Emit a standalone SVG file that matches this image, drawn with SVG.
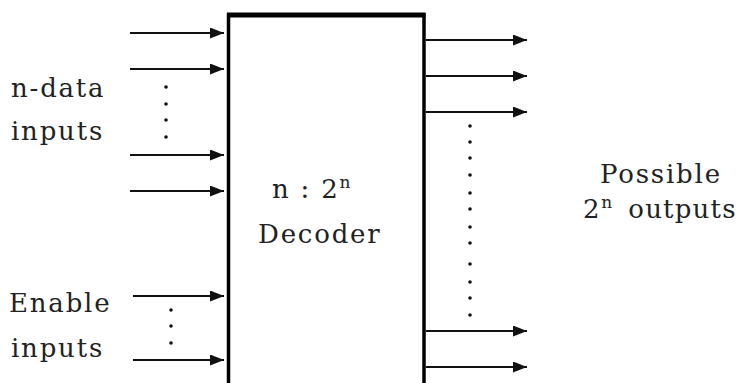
<svg xmlns="http://www.w3.org/2000/svg" width="743" height="383" viewBox="0 0 743 383">
<style>
.t{font-family:"DejaVu Serif","Liberation Serif",serif;font-size:26px;letter-spacing:1.8px;fill:#222}
.s{font-size:17px;letter-spacing:0}
.w{stroke:#111;stroke-width:2;fill:none}
.d{fill:#111}
</style>
<defs>
<marker id="ah" markerWidth="7" markerHeight="5.5" refX="7" refY="2.75" orient="auto" markerUnits="strokeWidth">
<path d="M0,0 L7,2.75 L0,5.5 Z" fill="#111"/>
</marker>
</defs>
<rect width="743" height="383" fill="#fff"/>
<g id="decoder">
<path d="M228.5,383 V15 H424 V383" fill="#fff" stroke="#000" stroke-width="3.5"/>
<path d="M227,15 H425.5" stroke="#000" stroke-width="5"/>
<text class="t" x="272" y="198">n : 2<tspan class="s" dy="-10">n</tspan></text>
<text class="t" x="258" y="243">Decoder</text>
</g>
<g id="data-inputs">
<text class="t" x="11" y="97">n-data</text>
<text class="t" x="11" y="140">inputs</text>
</g>
<g id="enable-inputs">
<text class="t" x="9" y="312">Enable</text>
<text class="t" x="11" y="357">inputs</text>
</g>
<g id="outputs">
<text class="t" x="600" y="183">Possible</text>
<text class="t" x="583" y="218">2<tspan class="s" dy="-10">n</tspan><tspan dy="10" dx="16" letter-spacing="1.2">outputs</tspan></text>
</g>
<g id="connectors">
<path class="w" marker-end="url(#ah)" d="M130,33 H224"/>
<path class="w" marker-end="url(#ah)" d="M130,69 H224"/>
<path class="w" marker-end="url(#ah)" d="M130,155 H224"/>
<path class="w" marker-end="url(#ah)" d="M130,191 H224"/>
<path class="w" marker-end="url(#ah)" d="M133,296 H224"/>
<path class="w" marker-end="url(#ah)" d="M133,360 H224"/>
<path class="w" marker-end="url(#ah)" d="M426,40 H527"/>
<path class="w" marker-end="url(#ah)" d="M426,76 H527"/>
<path class="w" marker-end="url(#ah)" d="M426,112 H527"/>
<path class="w" marker-end="url(#ah)" d="M426,331 H527"/>
<path class="w" marker-end="url(#ah)" d="M426,367 H527"/>
</g>
<g id="dots">
<circle class="d" cx="166" cy="87" r="1.8"/>
<circle class="d" cx="166" cy="104" r="1.8"/>
<circle class="d" cx="166" cy="120" r="1.8"/>
<circle class="d" cx="166" cy="137" r="1.8"/>
<circle class="d" cx="171" cy="310" r="1.8"/>
<circle class="d" cx="171" cy="326" r="1.8"/>
<circle class="d" cx="171" cy="343" r="1.8"/>
<circle class="d" cx="470" cy="126" r="1.8"/>
<circle class="d" cx="470" cy="142" r="1.8"/>
<circle class="d" cx="470" cy="158" r="1.8"/>
<circle class="d" cx="470" cy="175" r="1.8"/>
<circle class="d" cx="470" cy="193" r="1.8"/>
<circle class="d" cx="470" cy="209" r="1.8"/>
<circle class="d" cx="470" cy="227" r="1.8"/>
<circle class="d" cx="470" cy="243" r="1.8"/>
<circle class="d" cx="470" cy="264" r="1.8"/>
<circle class="d" cx="470" cy="282" r="1.8"/>
<circle class="d" cx="470" cy="298" r="1.8"/>
<circle class="d" cx="470" cy="315" r="1.8"/>
</g>
</svg>
